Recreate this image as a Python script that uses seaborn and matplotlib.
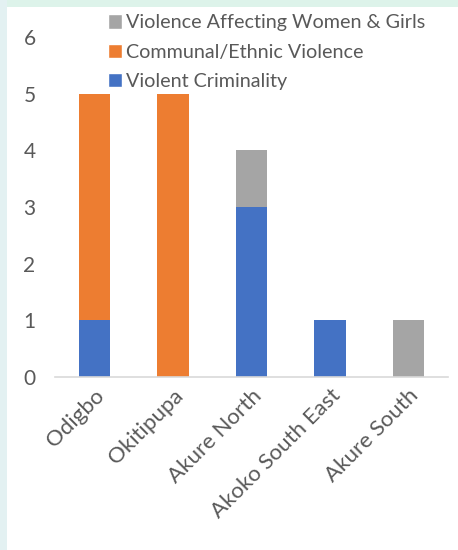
import numpy as np
import pandas as pd
import seaborn as sns
import matplotlib.pyplot as plt
from matplotlib.patches import Patch, Rectangle

districts = ['Odigbo', 'Okitipupa', 'Akure North', 'Akoko South East', 'Akure South']
violent_criminality = [1, 0, 3, 1, 0]
communal_ethnic = [4, 5, 0, 0, 0]
women_girls = [0, 0, 1, 0, 1]

labels = ['Violent Criminality', 'Communal/Ethnic Violence', 'Violence Affecting Women & Girls']
colors = ['#4472C4', '#ED7D31', '#A5A5A5']

sns.set_style('white')
plt.rcParams['font.family'] = ['Lato', 'DejaVu Sans']

df = pd.DataFrame({'district': districts,
                   'vc': violent_criminality,
                   'ce': communal_ethnic,
                   'wg': women_girls})
df['lvl1'] = df['vc']
df['lvl2'] = df['vc'] + df['ce']
df['lvl3'] = df['vc'] + df['ce'] + df['wg']

fig = plt.figure(figsize=(4.58, 5.5), dpi=100)
ax = fig.add_axes([0.12, 0.3145, 0.858, 0.618])

# stacked bars: draw cumulative totals from the top layer down
for col, c in zip(['lvl3', 'lvl2', 'lvl1'], colors[::-1]):
    sns.barplot(data=df, x='district', y=col, color=c, width=0.4,
                saturation=1, linewidth=0, ax=ax, order=districts)

ax.set_ylim(0, 6)
ax.set_xlim(-0.5, 4.5)
ax.set_yticks(range(7))
ax.set_xlabel('')
ax.set_ylabel('')
sns.despine(ax=ax, left=True, top=True, right=True)
ax.spines['bottom'].set_color('#D9D9D9')
ax.spines['bottom'].set_linewidth(1.2)
ax.tick_params(axis='both', length=0, colors='#595959')
ax.tick_params(axis='y', pad=14, labelsize=15)
ax.tick_params(axis='x', pad=6, labelsize=16)
plt.setp(ax.get_xticklabels(), rotation=45, ha='right', rotation_mode='anchor')

handles = [Patch(facecolor=c) for c in colors[::-1]]
fig.legend(handles, labels[::-1], loc='upper left', bbox_to_anchor=(0.205, 0.999),
           frameon=False, fontsize=14.2, handlelength=0.75, handleheight=0.75,
           handletextpad=0.2, labelspacing=0.62, borderpad=0.2,
           labelcolor='#595959')

# light frame strips along top and left edge
fig.patches.append(Rectangle((0, 0.988), 1, 0.012, transform=fig.transFigure,
                             facecolor='#DDF3EA', edgecolor='none'))
fig.patches.append(Rectangle((0, 0), 0.015, 1, transform=fig.transFigure,
                             facecolor='#E3F1F2', edgecolor='none'))

fig.savefig('out.png', dpi=100)
